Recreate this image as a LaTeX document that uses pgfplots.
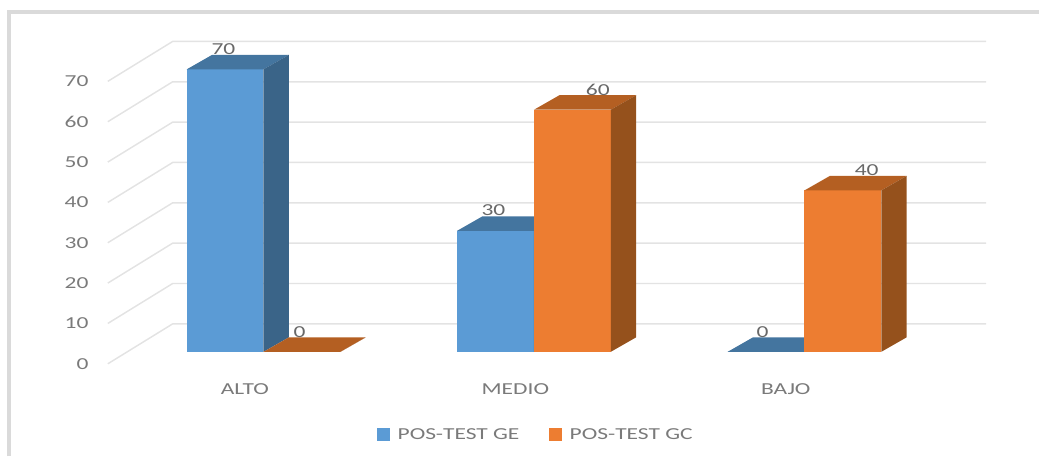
\documentclass[border=0pt]{standalone}
\usepackage{pgfplots}
\pgfplotsset{compat=1.18}
\usepackage{fontspec}
\setmainfont[FakeStretch=1.4]{Carlito}
\definecolor{geface}{HTML}{5B9BD5}
\definecolor{getop}{HTML}{44759F}
\definecolor{geside}{HTML}{3A6488}
\definecolor{gcface}{HTML}{ED7D31}
\definecolor{gctop}{HTML}{B45F22}
\definecolor{gcside}{HTML}{95511C}
\definecolor{txt}{HTML}{7A7A7A}
\definecolor{gridc}{HTML}{E3E3E3}
\definecolor{framec}{HTML}{DADADA}

\newcommand{\barw}{0.284}
\newcommand{\depx}{0.094}
\newcommand{\depy}{3.6}

% one bar with depth: left x, value, front, top, side
\newcommand{\cube}[5]{%
  \pgfmathsetmacro\xa{#1}%
  \pgfmathsetmacro\xb{#1+\barw}%
  \pgfmathsetmacro\xc{#1+\depx}%
  \pgfmathsetmacro\xd{#1+\barw+\depx}%
  \pgfmathsetmacro\yt{#2+\depy}%
  \addplot[fill=#3,draw=none,forget plot] coordinates {(\xa,0) (\xb,0) (\xb,#2) (\xa,#2)} -- cycle;
  \addplot[fill=#4,draw=none,forget plot] coordinates {(\xa,#2) (\xb,#2) (\xd,\yt) (\xc,\yt)} -- cycle;
  \addplot[fill=#5,draw=none,forget plot] coordinates {(\xb,0) (\xd,\depy) (\xd,\yt) (\xb,#2)} -- cycle;
}
% value label: x, value
\newcommand{\vlabel}[2]{%
  \pgfmathsetmacro\xa{#1}%
  \pgfmathsetmacro\yt{#2+5}%
  \addplot[draw=none,forget plot,point meta=explicit symbolic,nodes near coords,
    nodes near coords style={anchor=center,inner sep=0pt,text=txt!85!black}]
    coordinates {(\xa,\yt) [#2]};
}
% wall line for one tick value
\newcommand{\wall}[1]{%
  \pgfmathsetmacro\ya{#1-2.97}%
  \pgfmathsetmacro\yb{#1+6.93}%
  \addplot[gridc,line width=1.1pt,forget plot] coordinates {(-0.5756,\ya) (-0.3358,\yb) (2.6716,\yb)};
}

\begin{document}
\begin{tikzpicture}[font=\fontsize{12.6}{14}\selectfont]
\begin{axis}[
  scale only axis,
  width=660pt, height=242.25pt,
  xmin=-0.5756, xmax=2.6716,
  ymin=-2.97, ymax=76.93,
  clip=false,
  axis line style={draw=none},
  major tick style={draw=none},
  xtick={0,1,2},
  xticklabels={ALTO,MEDIO,BAJO},
  ytick={0,10,...,70},
  tick label style={text=txt},
  /pgf/number format/assume math mode=true,
  yticklabel style={anchor=east,xshift=-11pt,yshift=-9pt},
  xticklabel style={anchor=center,xshift=-14pt,yshift=-19pt},
  legend style={at={(0.4875,-0.22)},anchor=center,draw=none,fill=none,
    legend columns=2,text=txt,
    /tikz/column 1/.style={column sep=4pt},
    /tikz/column 2/.style={column sep=20pt},
    /tikz/column 3/.style={column sep=4pt}},
  legend cell align=left,
  legend image code/.code={\fill[#1] (0pt,-4.9pt) rectangle (9.75pt,4.9pt);},
]
\pgfplotsinvokeforeach{0,10,...,70}{\wall{#1}}

\cube{-\barw}{70}{geface}{getop}{geside}
\cube{0}{0}{gcface}{gctop}{gcside}
\cube{1-\barw}{30}{geface}{getop}{geside}
\cube{1}{60}{gcface}{gctop}{gcside}
\cube{2-\barw}{0}{geface}{getop}{geside}
\cube{2}{40}{gcface}{gctop}{gcside}

\vlabel{-0.148}{70}
\vlabel{0.133}{0}
\vlabel{0.850}{30}
\vlabel{1.236}{60}
\vlabel{1.845}{0}
\vlabel{2.230}{40}

\addlegendimage{fill=geface,draw=none}
\addlegendentry{POS-TEST GE}
\addlegendimage{fill=gcface,draw=none}
\addlegendentry{POS-TEST GC}

% frame, open to the right and below, and the picture's full extent
\path (axis cs:-0.97417,87.2) rectangle (axis cs:2.8672,-25.85);
\draw[framec,line width=3pt] (axis cs:-0.9409,-25.85) -- (axis cs:-0.9409,84.2) -- (axis cs:2.8672,84.2);
\end{axis}
\end{tikzpicture}
\end{document}
